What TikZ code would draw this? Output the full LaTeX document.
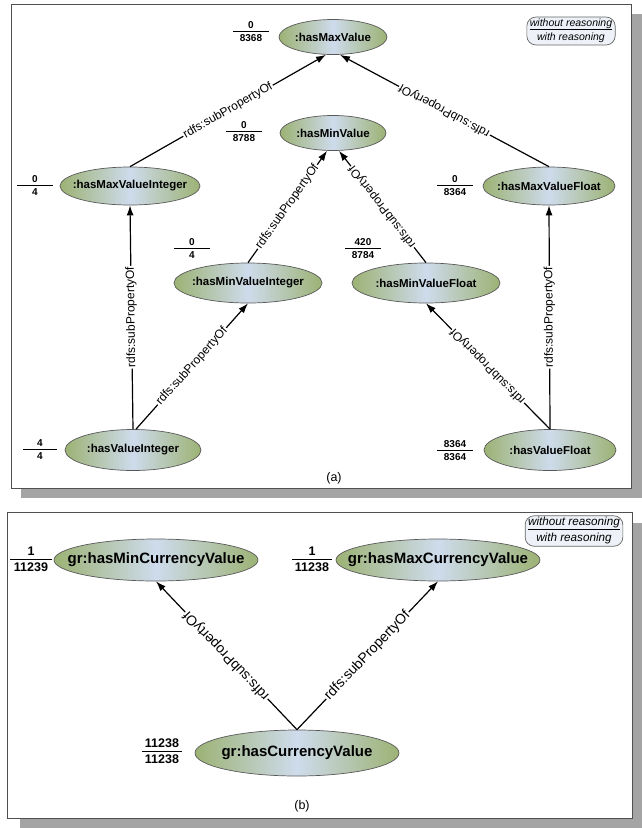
\documentclass[tikz,border=0pt]{standalone}
\usepackage{fontspec}
\setmainfont{Liberation Sans}
\usetikzlibrary{arrows.meta,shapes.geometric}
\definecolor{ngreen}{HTML}{9CB274}
\definecolor{nblue}{HTML}{CEDBEC}
\definecolor{framec}{HTML}{505050}
\definecolor{shadowc}{HTML}{A4A4A4}
\definecolor{legfill}{HTML}{EEF2F8}
\setlength\arrayrulewidth{1.1pt}
\newcommand\fracnum[3]{\renewcommand\arraystretch{0.85}\begin{tabular}{@{}c@{}}\makebox[#3]{#1}\\\hline\rule{0pt}{0.95em}#2\end{tabular}}
\newcommand\legendtxt{\renewcommand\arraystretch{0.9}\begin{tabular}{@{}c@{}}\textit{without reasoning}\\\hline\rule{0pt}{0.95em}\textit{with reasoning}\end{tabular}}
\begin{document}
\begin{tikzpicture}[x=1pt,y=-1pt,
  ell/.style={ellipse, draw=black!65, line width=0.7pt, left color=ngreen, right color=ngreen, middle color=nblue, inner sep=0pt, font=\bfseries\fontsize{11.5}{13}\selectfont},
  ellb/.style={ell, font=\bfseries\fontsize{15}{17}\selectfont},
  conn/.style={line width=1.2pt, -{Latex[length=10pt,width=7pt]}},
  lbl/.style={sloped, allow upside down, fill=white, inner sep=1pt, font=\fontsize{12}{13}\selectfont},
  lblb/.style={lbl, font=\fontsize{14}{15}\selectfont},
  fracbox/.style={inner sep=0pt, font=\bfseries\fontsize{10}{11}\selectfont},
  fracboxb/.style={inner sep=0pt, font=\bfseries\fontsize{12.5}{13.5}\selectfont},
  legendbox/.style={draw=black!60, line width=0.7pt, fill=legfill, rounded corners=9pt, inner xsep=3pt, inner ysep=1.5pt, font=\fontsize{10.5}{11.5}\selectfont},
  legendboxb/.style={legendbox, font=\fontsize{11.7}{12.5}\selectfont},
  captext/.style={font=\fontsize{12.5}{14}\selectfont, inner sep=0pt}
]
\useasboundingbox (0,0) rectangle (642,828);
% panel (a)
\fill[shadowc] (21,14) rectangle (642,498);
\filldraw[fill=white, draw=framec, line width=1pt] (11,4) rectangle (631,488);
% panel (b)
\fill[shadowc] (20,523) rectangle (642,828);
\filldraw[fill=white, draw=framec, line width=1pt] (7,512) rectangle (632,818);

% ---- panel (a) nodes
\node[ell, minimum width=108pt, minimum height=35pt] (hmv) at (333,37) {\makebox[0pt]{:hasMaxValue}};
\node[ell, minimum width=106pt, minimum height=35pt] (hmin) at (333,133) {\makebox[0pt]{:hasMinValue}};
\node[ell, minimum width=140pt, minimum height=38pt] (hmvi) at (130,186) {\makebox[0pt]{:hasMaxValueInteger}};
\node[ell, minimum width=132pt, minimum height=38pt] (hmvf) at (549,186) {\makebox[0pt]{:hasMaxValueFloat}};
\node[ell, minimum width=148pt, minimum height=40pt] (hmini) at (248,283) {\makebox[0pt]{:hasMinValueInteger}};
\node[ell, minimum width=148pt, minimum height=40pt] (hminf) at (426,283) {\makebox[0pt]{:hasMinValueFloat}};
\node[ell, minimum width=136pt, minimum height=41pt] (hvi) at (133,450) {\makebox[0pt]{:hasValueInteger}};
\node[ell, minimum width=132pt, minimum height=41pt] (hvf) at (550,450) {\makebox[0pt]{:hasValueFloat}};

% fractions (a)
\node[fracbox] (f1) at (251,33) {\fracnum{0}{8368}{36pt}};
\node[fracbox] (f2) at (244,133) {\fracnum{0}{8788}{36pt}};
\node[fracbox] (f3) at (35,187) {\fracnum{0}{4}{36pt}};
\node[fracbox] (f4) at (455,187) {\fracnum{0}{8364}{36pt}};
\node[fracbox] (f5) at (192,250) {\fracnum{0}{4}{36pt}};
\node[fracbox] (f6) at (363,250) {\fracnum{420}{8784}{36pt}};
\node[fracbox] (f7) at (40,451) {\fracnum{4}{4}{34pt}};
\node[fracbox] (f8) at (455,452) {\fracnum{8364}{8364}{36pt}};

% legend (a)
\node[legendbox] (lega) at (571,31) {\legendtxt};
\node[captext] (capa) at (334,478) {(a)};

% edges (a)
\draw[conn] (hmvi.north) -- ([xshift=-7pt]hmv.south) node[lbl,pos=.5] {rdfs:subPropertyOf};
\draw[conn] (hmvf.north) -- ([xshift=7pt]hmv.south) node[lbl,pos=.5] {rdfs:subPropertyOf};
\draw[conn] (hmini.north) -- ([xshift=-6pt]hmin.south) node[lbl,pos=.5] {rdfs:subPropertyOf};
\draw[conn] (hminf.north) -- ([xshift=6pt]hmin.south) node[lbl,pos=.5] {rdfs:subPropertyOf};
\draw[conn] (hvi.north) -- (hmvi.south) node[lbl,pos=.5] {rdfs:subPropertyOf};
\draw[conn] ([xshift=3pt]hvi.north) -- (hmini.south) node[lbl,pos=.5] {rdfs:subPropertyOf};
\draw[conn] (hvf.north) -- (hmvf.south) node[lbl,pos=.5] {rdfs:subPropertyOf};
\draw[conn] (hvf.north) -- (hminf.south) node[lbl,pos=.5] {rdfs:subPropertyOf};

% ---- panel (b)
\node[ellb, minimum width=204pt, minimum height=42pt] (gmin) at (156,560) {\makebox[0pt]{gr:hasMinCurrencyValue}};
\node[ellb, minimum width=204pt, minimum height=42pt] (gmax) at (438,560) {\makebox[0pt]{gr:hasMaxCurrencyValue}};
\node[ellb, minimum width=204pt, minimum height=46pt] (gcur) at (297,753) {\makebox[0pt]{gr:hasCurrencyValue}};

\node[fracboxb] (g1) at (31,561) {\fracnum{1}{11239}{42pt}};
\node[fracboxb] (g2) at (312,561) {\fracnum{1}{11238}{40pt}};
\node[fracboxb] (g3) at (162,753) {\fracnum{11238}{11238}{40pt}};

\node[legendboxb] (legb) at (574,531) {\legendtxt};
\node[captext] (capb) at (302,806) {(b)};

\draw[conn] (gcur.north) -- (gmin.south) node[lblb,pos=.5] {rdfs:subPropertyOf};
\draw[conn] (gcur.north) -- (gmax.south) node[lblb,pos=.5] {rdfs:subPropertyOf};
\end{tikzpicture}
\end{document}
